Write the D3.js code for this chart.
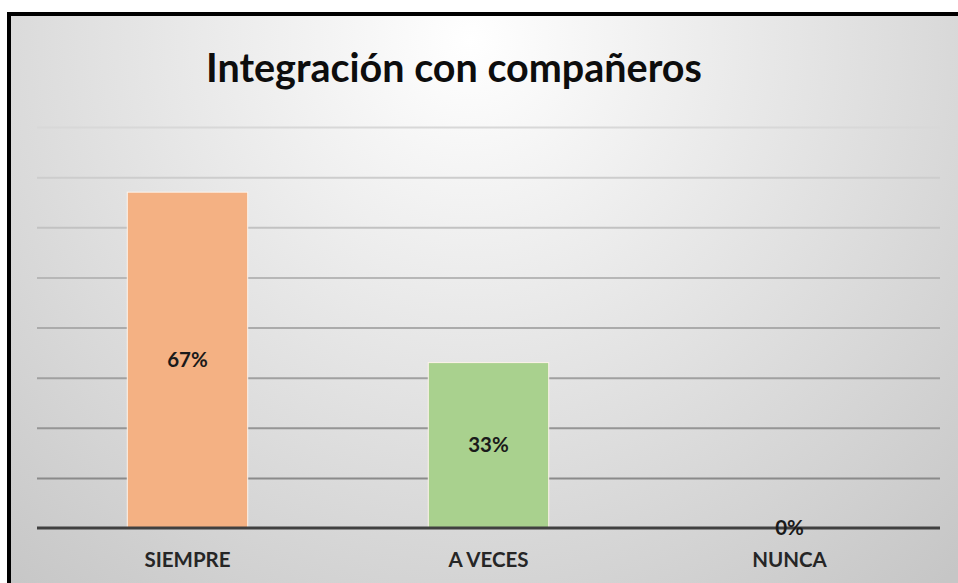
<!DOCTYPE html>
<html lang="es">
  <head>
    <meta charset="utf-8">
    <title>Integración con compañeros</title>
    <style>
      body { margin: 0; background: #fff; }
      text { font-family: Lato, "Open Sans", sans-serif; font-weight: bold; }
    </style>
  </head>
  <body>
    <svg id="chart" width="958" height="583"></svg>
    <script src="https://d3js.org/d3.v7.min.js"></script>
    <script>
      // data
      let categories = ["SIEMPRE", "A VECES", "NUNCA"]
      let values = [0.67, 0.33, 0]
      let barColors = ["#F4B183", "#A9D18E", "#9DC3E6"]
      let gridTicks = [0.1, 0.2, 0.3, 0.4, 0.5, 0.6, 0.7, 0.8]
      let title = "Integración con compañeros"

      let svg = d3.select("#chart")
      let defs = svg.append("defs")

      // background, light at the top centre, greyer to the edges
      let bg = defs.append("radialGradient").attr("id", "bg")
        .attr("gradientUnits", "userSpaceOnUse")
        .attr("cx", 470).attr("cy", 40).attr("r", 720)
      bg.append("stop").attr("offset", "0%").attr("stop-color", "#ffffff")
      bg.append("stop").attr("offset", "100%").attr("stop-color", "#c6c6c6")

      svg.append("rect")
        .attr("x", 9).attr("y", 14).attr("width", 1000).attr("height", 620)
        .attr("fill", "url(#bg)")
        .attr("stroke", "#000").attr("stroke-width", 4)

      let x = d3.scaleBand().domain(categories).range([37, 940])
        .paddingInner(0.6).paddingOuter(0.3)
      let y = d3.scaleLinear().domain([0, 0.8]).range([528, 127])

      // grid lines fade from light at the top to darker near the base
      let gridColor = d3.scaleLinear().domain([0.8, 0.1]).range(["#d8d8d8", "#8a8a8a"])
      let yAxis = d3.axisLeft(y).tickValues(gridTicks).tickSize(-(940 - 37)).tickFormat("")
      let gy = svg.append("g").attr("transform", "translate(37,0)").call(yAxis)
      gy.select(".domain").remove()
      gy.selectAll(".tick line").attr("stroke", d => gridColor(d)).attr("stroke-width", 2)

      // bars
      svg.append("g").selectAll("rect").data(values).join("rect")
        .attr("x", (d, i) => x(categories[i]))
        .attr("y", d => y(d))
        .attr("width", x.bandwidth())
        .attr("height", d => y(0) - y(d))
        .attr("fill", (d, i) => barColors[i])
        .attr("stroke", "#fdf3ea").attr("stroke-width", 1)

      // base line and category labels
      let xAxis = d3.axisBottom(x).tickSize(0).tickPadding(24)
      let gx = svg.append("g").attr("transform", "translate(0," + y(0) + ")").call(xAxis)
      gx.select(".domain").attr("d", "M37,0H940").attr("stroke", "#404040").attr("stroke-width", 3)
      gx.selectAll(".tick text")
        .style("font-family", "Lato, 'Open Sans', sans-serif")
        .style("font-weight", "bold")
        .attr("font-size", 20.5).attr("fill", "#262626")

      // value labels in the middle of each bar
      svg.append("g").selectAll("text").data(values).join("text")
        .attr("x", (d, i) => x(categories[i]) + x.bandwidth() / 2)
        .attr("y", d => (y(d) + y(0)) / 2)
        .attr("dy", "0.35em")
        .attr("text-anchor", "middle")
        .attr("font-size", 20.5).attr("fill", "#1a1a1a")
        .text(d => d3.format(".0%")(d))

      // title
      svg.append("text")
        .attr("x", 454).attr("y", 82)
        .attr("text-anchor", "middle")
        .attr("font-size", 39.5).attr("fill", "#0d0d0d")
        .text(title)
    </script>
  </body>
</html>
